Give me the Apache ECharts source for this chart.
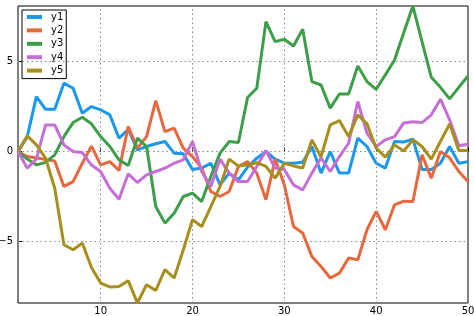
<!DOCTYPE html>
<html><head><meta charset="utf-8">
<script src="https://cdn.jsdelivr.net/npm/echarts@6/dist/echarts.min.js"></script>
<style>html,body{margin:0;padding:0;background:#fff}#c{width:474px;height:316px}</style>
</head><body><div id="c"></div>
<script>
const xValues = Array.from({length: 50}, (_, i) => i + 1);
const seriesNames = ['y1', 'y2', 'y3', 'y4', 'y5'];
const y1 = [0, 0.8, 3.05, 2.35, 2.35, 3.8, 3.52, 2.13, 2.5, 2.32, 2.04, 0.74, 1.24, 0.09, 0.28, 0.43, 0.56, -0.09, -0.13, -1.0, -0.92, -0.65, -1.85, -1.2, -1.57, -0.87, -0.37, 0, -0.42, -0.65, -0.65, -0.6, 0.28, -1.2, 0, -1.2, -1.2, 0.74, 0.28, -0.65, -0.92, 0.56, 0.53, 0.69, -1.0, -1.0, -0.65, 0.28, -0.65, -0.56];
const y2 = [0, -0.28, -0.35, -0.45, -0.52, -1.94, -1.67, -0.65, 0.3, -0.74, -0.56, -1.05, 1.39, 0.19, 0.83, 2.83, 1.11, 1.3, 0.19, -0.28, -0.92, -2.22, -2.5, -2.22, -0.83, -0.56, -1.2, -2.68, -0.42, -1.85, -4.17, -4.53, -5.83, -6.39, -7.03, -6.76, -5.92, -6.02, -4.35, -3.33, -4.35, -2.96, -2.76, -2.78, -0.18, -1.48, 0, -0.35, -1.11, -1.67];
const y3 = [0, -0.42, -0.74, -0.6, -0.19, 0.83, 1.61, 1.91, 1.54, 0.83, 0.28, -0.46, -0.78, 0.74, 0.28, -3.06, -3.98, -3.43, -2.5, -2.31, -2.78, -1.39, -0.09, 0.56, 0.5, 3.0, 3.52, 7.22, 6.11, 6.24, 5.87, 6.8, 3.89, 3.7, 2.41, 3.2, 3.2, 4.76, 3.89, 3.46, 4.26, 5.09, 6.6, 8.09, 6.1, 4.13, 3.57, 2.93, 3.57, 4.2];
const y4 = [0, -0.92, -0.42, 1.48, 1.48, 0.37, 0, -0.06, -0.75, -1.11, -2.04, -2.65, -1.24, -1.72, -1.3, -1.11, -0.92, -0.65, -0.46, 0.56, -1.11, -1.94, -0.42, -1.2, -1.67, -1.67, -0.83, 0.06, -0.92, -1.0, -1.85, -2.13, -1.2, -0.35, -1.11, -0.28, 0.46, 2.78, 1.02, 0.28, 0.65, 0.83, 1.59, 1.65, 1.61, 2.04, 2.91, 1.76, 0.32, 0.41];
const y5 = [0, 0.87, 0.37, -0.37, -2.04, -5.18, -5.46, -5.09, -6.45, -7.31, -7.53, -7.5, -7.18, -8.42, -7.4, -7.72, -6.57, -7.03, -5.46, -3.79, -4.17, -3.06, -1.94, -0.42, -0.8, -0.74, -0.62, -0.83, -1.48, -0.65, -0.8, -0.92, 0.65, -0.3, 1.48, 1.72, 0.83, 2.04, 1.54, 0.19, -0.31, 0.37, 0.03, 0.65, 0.28, -0.42, 0.56, 1.54, 0.06, 0.06];
const xTicks = [10, 20, 30, 40, 50];
const yTicks = [-5, 0, 5];
const colors = ['#1a98ee', '#e8683e', '#3d9e4a', '#c56fd6', '#a88e1c'];

const allData = [y1, y2, y3, y4, y5];
const fmt = v => (v < 0 ? '\u2212' + Math.abs(v) : String(v));
const gridStyle = {type: [1.5, 3], color: '#8a8a8a', width: 1};
const font = 'DejaVu Sans';

const series = seriesNames.map((n, k) => ({
  name: n, type: 'line', showSymbol: false, symbol: 'none',
  data: xValues.map((x, i) => [x, allData[k][i]]),
  lineStyle: {width: 3, color: colors[k]}, itemStyle: {color: colors[k]},
  animation: false, z: 3 + k
}));
series.push({
  type: 'line', data: [], silent: true, z: 1,
  markLine: {
    silent: true, symbol: 'none', label: {show: false}, animation: false,
    lineStyle: gridStyle,
    data: xTicks.filter(v => v < 50).map(v => ({xAxis: v})).concat(yTicks.map(v => ({yAxis: v})))
  }
});

const chart = echarts.init(document.getElementById('c'), null, {renderer: 'canvas'});
chart.setOption({
  animation: false,
  backgroundColor: '#fff',
  grid: {left: 18, right: 6, top: 6, bottom: 13, containLabel: false, outerBoundsMode: 'none',
         show: true, borderColor: '#000', borderWidth: 1, backgroundColor: 'transparent'},
  xAxis: {
    type: 'value', min: 1, max: 50,
    axisLine: {show: false},
    splitLine: {show: false},
    axisTick: {show: true, inside: true, length: 4, customValues: xTicks, lineStyle: {color: '#000'}},
    axisLabel: {customValues: xTicks, color: '#000', fontFamily: font, fontSize: 10, margin: 3, formatter: fmt}
  },
  yAxis: {
    type: 'value', min: -8.42, max: 8.09,
    axisLine: {show: false},
    splitLine: {show: false},
    axisTick: {show: true, inside: true, length: 4, customValues: yTicks, lineStyle: {color: '#000'}},
    axisLabel: {customValues: yTicks, color: '#000', fontFamily: font, fontSize: 10, margin: 5, formatter: fmt}
  },
  legend: {
    data: seriesNames, orient: 'vertical', left: 22, top: 10,
    padding: [2, 3, 3, 5], itemGap: 3.4, itemWidth: 15, itemHeight: 4,
    icon: 'rect', borderColor: '#000', borderWidth: 1, backgroundColor: '#fff',
    textStyle: {fontFamily: font, fontSize: 10, color: '#000', padding: [0, 0, 0, 4]}
  },
  series: series
});
</script></body></html>
